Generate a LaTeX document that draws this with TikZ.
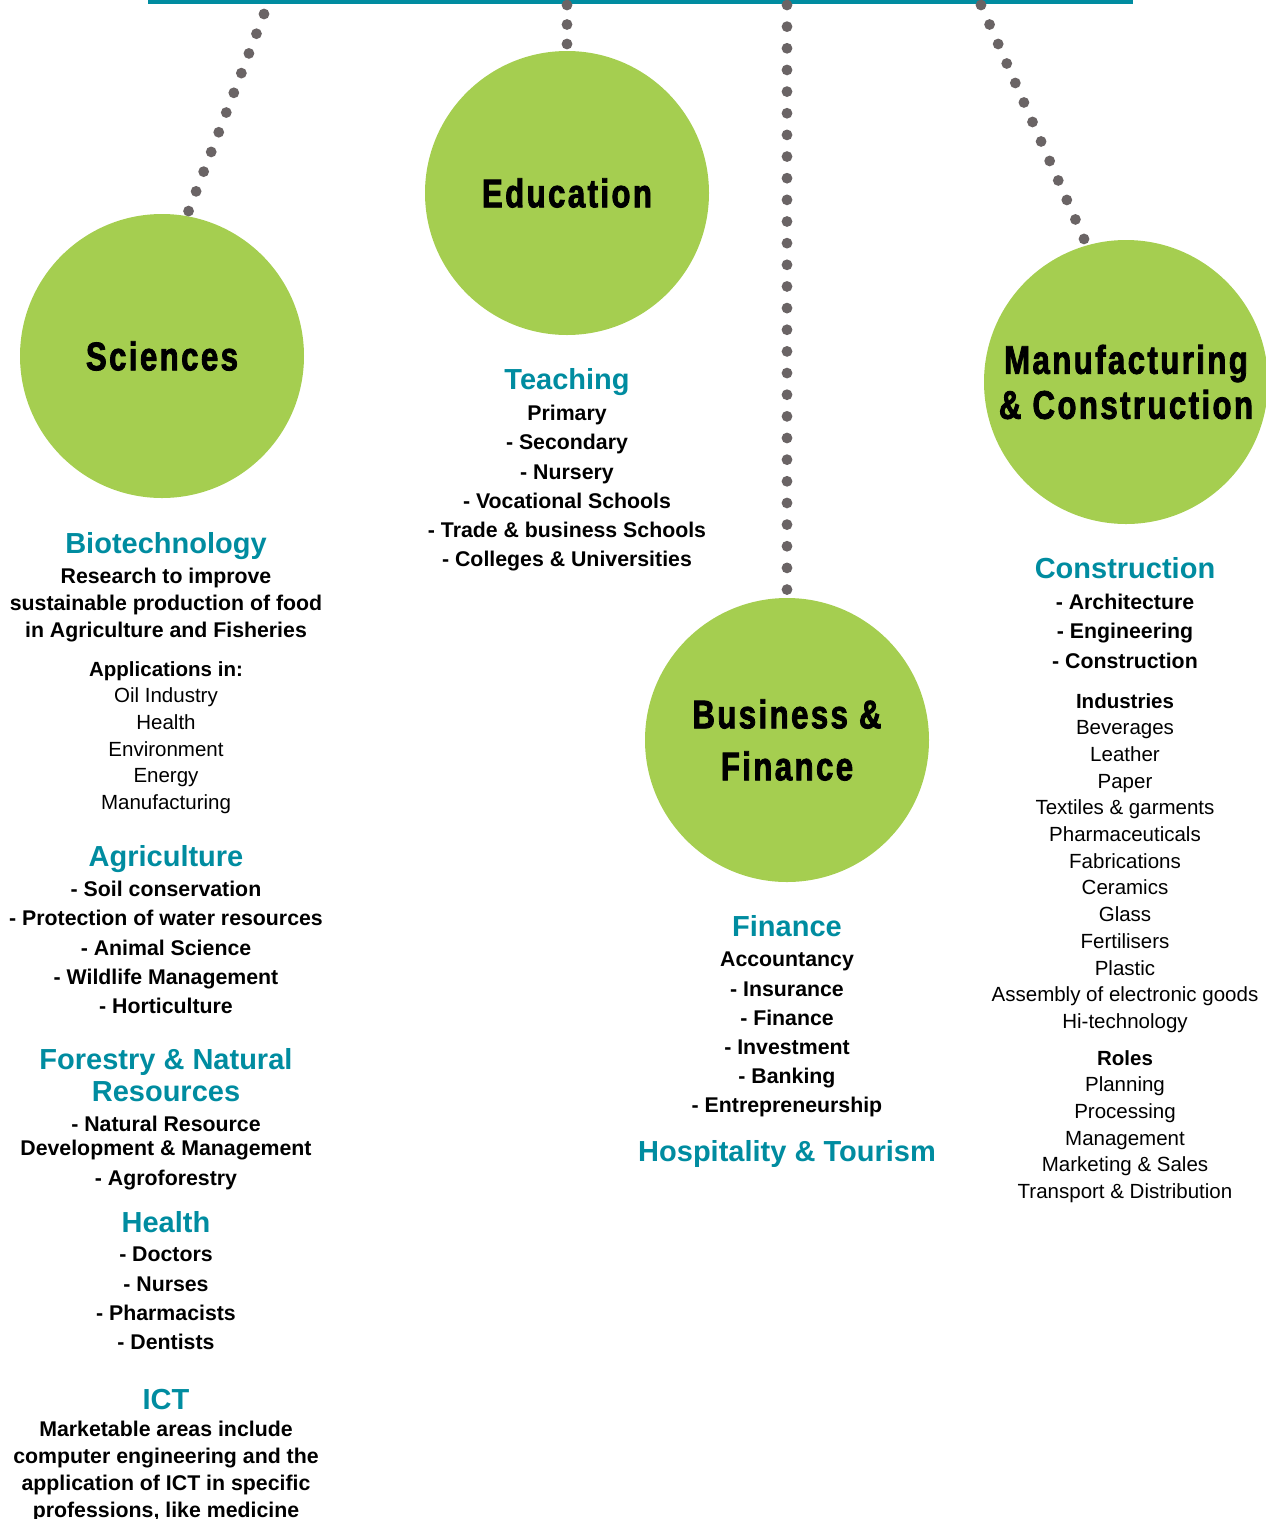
\documentclass[tikz,border=0pt]{standalone}
\usepackage{fontspec}
\setmainfont{Liberation Sans}
\newfontfamily\titlefont[FakeStretch=0.78,LetterSpace=6,FakeBold=2]{Liberation Sans}
\usetikzlibrary{positioning}
\definecolor{leaf}{RGB}{165,206,80}
\definecolor{sea}{RGB}{0,140,160}
\definecolor{pebble}{RGB}{106,100,101}
\tikzset{
  circ/.style={
    circle,
    fill=leaf,
    minimum size=284pt,
    inner sep=0pt,
    align=center,
    font=\titlefont\bfseries\fontsize{40}{45}\selectfont},
  head/.style={text=sea, inner sep=0pt, align=center, font=\bfseries\fontsize{29}{32}\selectfont},
  blist/.style={inner sep=0pt, align=center, font=\bfseries\fontsize{21.3}{29.2}\selectfont},
  para/.style={inner sep=0pt, align=center, font=\bfseries\fontsize{21.3}{26.8}\selectfont},
  plist/.style={inner sep=0pt, align=center, font=\fontsize{20.5}{26.7}\selectfont},
  mydots/.style={draw=pebble, line width=10.8pt, line cap=round, dash pattern=on 0pt off 21.2pt},
  topline/.style={draw=sea, line width=4pt},
}

\begin{document}
\begin{tikzpicture}[x=1pt, y=-1pt]
  \useasboundingbox (0,0) rectangle (1266,1519);
  \coordinate (barL) at (148,1.5);
  \coordinate (barR) at (1133,1.5);
  \draw[topline] (barL) -- (barR);

  % the four circles
  \node[circ] (sci) at (162,356) {Sciences};
  \node[circ] (edu) at (567,193) {Education};
  \node[circ] (bus) at (787,740) {Business \&\\[7pt]Finance};
  \node[circ] (man) at (1126,382) {Manufacturing\\\& Construction};

  % dotted links from the bar
  \coordinate (sciTop) at (264,14);
  \coordinate (eduTop) at (567,5);
  \coordinate (busTop) at (787,5);
  \coordinate (manTop) at (981,5);
  \draw[mydots, dash pattern=on 0pt off 21.1pt] (sciTop) -- (sci.80);
  \draw[mydots, dash pattern=on 0pt off 19.5pt] (eduTop) -- (edu.north);
  \draw[mydots, dash pattern=on 0pt off 21.65pt] (busTop) -- (bus.north);
  \draw[mydots, dash pattern=on 0pt off 21.3pt] (manTop) -- (man.106);

  % Sciences
  \node[head, anchor=base] (biotech) at (166,553) {Biotechnology};
  \node[para, anchor=north] (biotext) at (166,568) {Research to improve\\sustainable production of food\\in Agriculture and Fisheries};
  \node[plist, anchor=north] (apps) at (166,661) {\textbf{Applications in:}\\Oil Industry\\Health\\Environment\\Energy\\Manufacturing};
  \node[head, anchor=base] (agri) at (166,866) {Agriculture};
  \node[blist, anchor=north] (agrilist) at (166,881) {- Soil conservation\\- Protection of water resources\\- Animal Science\\- Wildlife Management\\- Horticulture};
  \node[head, anchor=north] (forest) at (166,1048) {Forestry \& Natural\\Resources};
  \node[blist, anchor=north, font=\bfseries\fontsize{21.3}{24}\selectfont] (forestlist) at (166,1116) {- Natural Resource\\Development \& Management\\[6pt]- Agroforestry};
  \node[head, anchor=base] (health) at (166,1232) {Health};
  \node[blist, anchor=north] (healthlist) at (166,1247) {- Doctors\\- Nurses\\- Pharmacists\\- Dentists};
  \node[head, anchor=base] (ict) at (166,1409) {ICT};
  \node[para, anchor=north] (icttext) at (166,1421) {Marketable areas include\\computer engineering and the\\application of ICT in specific\\professions, like medicine};

  % Education
  \node[head, anchor=base] (teach) at (567,389) {Teaching};
  \node[blist, anchor=north] (teachlist) at (567,405) {Primary\\- Secondary\\- Nursery\\- Vocational Schools\\- Trade \& business Schools\\- Colleges \& Universities};

  % Business & Finance
  \node[head, anchor=base] (fin) at (787,936) {Finance};
  \node[blist, anchor=north] (finlist) at (787,952) {Accountancy\\- Insurance\\- Finance\\- Investment\\- Banking\\- Entrepreneurship};
  \node[head, anchor=base] (hosp) at (787,1161) {Hospitality \& Tourism};

  % Manufacturing & Construction
  \node[head, anchor=base] (constr) at (1125,578) {Construction};
  \node[blist, anchor=north] (constrlist) at (1125,594) {- Architecture\\- Engineering\\- Construction};
  \node[plist, anchor=north] (indus) at (1125,693) {\textbf{Industries}\\Beverages\\Leather\\Paper\\Textiles \& garments\\Pharmaceuticals\\Fabrications\\Ceramics\\Glass\\Fertilisers\\Plastic\\Assembly of electronic goods\\Hi-technology};
  \node[plist, anchor=north] (roles) at (1125,1050) {\textbf{Roles}\\Planning\\Processing\\Management\\Marketing \& Sales\\Transport \& Distribution};
\end{tikzpicture}
\end{document}
